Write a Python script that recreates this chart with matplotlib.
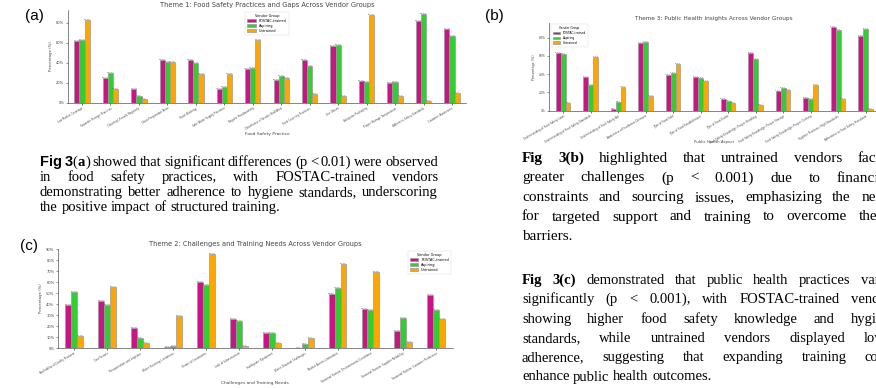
import matplotlib
matplotlib.use("Agg")
import matplotlib.pyplot as plt
from matplotlib.font_manager import FontProperties
from matplotlib.ticker import MultipleLocator, FuncFormatter
import numpy as np

# ---------------- data ----------------
vendor_groups = ["FOSTAC-trained", "Aspiring", "Untrained"]
group_colors = ["#C71585", "#32CD32", "#FFA500"]

theme1_categories = [
    "Low Market Coverage", "Separate Storage Practices", "Cleaning Utensils Regularly",
    "Clean Preparation Area", "Hand Washing", "Safe Water Supply Practices",
    "Regular Handwashing", "Cleanliness of Vendor Stall/Area",
    "Food Covering Practices", "Use Gloves", "Adequate Packaging",
    "Proper Storage Temperature", "Adhere to Safety Standards", "Customer Awareness",
]
theme1_fostac = [62.3, 25.0, 14.0, 43.3, 43.3, 14.0, 34.0, 23.3, 43.3, 57.3, 22.3, 20.0, 81.7, 73.7]
theme1_aspiring = [62.7, 30.0, 7.3, 40.7, 40.0, 16.0, 35.3, 26.7, 36.7, 58.3, 21.0, 21.0, 88.3, 67.0]
theme1_untrained = [82.3, 14.0, 4.3, 40.7, 29.0, 29.0, 63.3, 25.0, 9.3, 6.7, 87.3, 6.7, 2.3, 9.7]

theme3_categories = [
    "Understanding of Food Safety Laws", "Understanding of Food Safety Standards",
    "Understanding of Food Safety Act", "Awareness of Foodborne Diseases",
    "Type of Food Sold", "Type of Food Establishment", "Type of Food Outlet",
    "Food Safety Knowledge: Proper Handling", "Food Safety Knowledge: Proper Storage",
    "Food Safety Knowledge: Proper Cooking", "Hygiene Practices: High Standards",
    "Adherence to Food Safety Standards",
]
theme3_fostac = [63.3, 36.4, 1.8, 74.2, 39.3, 37.1, 12.7, 63.3, 21.5, 13.8, 91.6, 81.8]
theme3_aspiring = [62.5, 28.0, 9.8, 75.6, 41.5, 35.3, 10.5, 56.7, 24.4, 12.7, 88.0, 89.0]
theme3_untrained = [8.0, 58.2, 26.2, 16.0, 50.5, 32.4, 8.0, 6.2, 22.2, 28.0, 12.4, 2.2]

theme2_categories = [
    "Availability of Quality Products", "Cost Factors", "Transportation and Logistics",
    "Water Sourcing Limitations", "Financial Constraints", "Lack of Infrastructure",
    "Inadequate Equipment", "Waste Disposal Challenges", "Market Access Limitations",
    "Seasonal Factors: Environmental Conditions", "Seasonal Factors: Supplier Reliability",
    "Seasonal Factors: Customer Preference",
]
theme2_fostac = [39.5, 42.5, 18.0, 1.2, 60.0, 26.6, 13.8, 0.3, 48.8, 35.9, 15.6, 47.9]
theme2_aspiring = [50.9, 39.5, 9.0, 1.5, 57.8, 24.6, 13.8, 3.6, 54.8, 35.0, 27.2, 35.0]
theme2_untrained = [11.1, 56.0, 4.5, 29.0, 85.9, 2.1, 4.2, 8.7, 76.3, 68.9, 5.4, 26.3]

para_a = [
    "Fig 3(a) showed that significant differences (p < 0.01) were observed",
    "in food safety practices, with FOSTAC-trained vendors",
    "demonstrating better adherence to hygiene standards, underscoring",
    "the positive impact of structured training.",
]
para_b = [
    "Fig 3(b) highlighted that untrained vendors faced",
    "greater challenges (p < 0.001) due to financial",
    "constraints and sourcing issues, emphasizing the need",
    "for targeted support and training to overcome these",
    "barriers.",
]
para_c = [
    "Fig 3(c) demonstrated that public health practices varied",
    "significantly (p < 0.001), with FOSTAC-trained vendors",
    "showing higher food safety knowledge and hygiene",
    "standards, while untrained vendors displayed lower",
    "adherence, suggesting that expanding training could",
    "enhance public health outcomes.",
]

# ---------------- figure ----------------
W, H = 876, 388
fig = plt.figure(figsize=(W / 100, H / 100), dpi=100)
fig.patch.set_facecolor("white")


def rect(l, t, r, b):
    return [l / W, 1 - b / H, (r - l) / W, (b - t) / H]


def draw_panel(pos, cats, series, title, xlabel, ystep, legend_loc, xlabel_top, scale=1.0):
    l, t, r, b = pos
    ax = fig.add_axes(rect(*pos))
    x = np.arange(len(cats))
    w = 0.18
    for i, (vals, col, name) in enumerate(zip(series, group_colors, vendor_groups)):
        bars = ax.bar(x + (i - 1) * w, vals, width=w, color=col, edgecolor="#999999",
                      linewidth=0.5, label=name)
        for bb, v in zip(bars, vals):
            ax.text(bb.get_x() + bb.get_width() / 2, bb.get_height(), f"{v:.1f}%",
                    ha="center", va="bottom", fontsize=1.6 * scale, color="#555555")
    ax.set_xlim(-0.5, len(cats) - 0.5)
    ax.margins(y=0.05)
    ax.yaxis.set_major_locator(MultipleLocator(ystep))
    ax.yaxis.set_major_formatter(FuncFormatter(lambda v, p: f"{v:.0f}%"))
    ax.set_xticks(x)
    ax.set_xticklabels(cats, rotation=30, ha="right", rotation_mode="anchor",
                       fontsize=1.9, color="#444444")
    ax.tick_params(axis="y", labelsize=2.6 * scale, length=1.5, width=0.4, pad=1,
                   colors="#444444")
    ax.tick_params(axis="x", length=1.5, width=0.4, pad=1)
    for s in ["top", "right"]:
        ax.spines[s].set_visible(False)
    for s in ["left", "bottom"]:
        ax.spines[s].set_linewidth(0.5)
        ax.spines[s].set_color("#555555")
    ax.set_title(title, fontsize=4.8 * scale, color="#444444", pad=2)
    ax.set_xlabel(xlabel, fontsize=3.2 * scale, color="#444444", va="top")
    ax.xaxis.set_label_coords(0.5, -(xlabel_top - b) / (b - t))
    ax.set_ylabel("Percentage (%)", fontsize=2.8 * scale, color="#444444", labelpad=2)
    leg = ax.legend(title="Vendor Group", loc=legend_loc, fontsize=2.5 * scale,
                    title_fontsize=2.5 * scale, frameon=True, borderpad=0.6,
                    handlelength=2.5, handleheight=0.9, labelspacing=0.3)
    leg.get_frame().set_linewidth(0.3)
    leg.get_frame().set_edgecolor("#cccccc")
    return ax


draw_panel((67.8, 10, 466.2, 103), theme1_categories,
           [theme1_fostac, theme1_aspiring, theme1_untrained],
           "Theme 1: Food Safety Practices and Gaps Across Vendor Groups",
           "Food Safety Practice", 20, "upper center", 131.5)
draw_panel((549.3, 22.7, 879.3, 110.7), theme3_categories,
           [theme3_fostac, theme3_aspiring, theme3_untrained],
           "Theme 3: Public Health Insights Across Vendor Groups",
           "Public Health Aspect", 20, "upper left", 140.5, scale=0.87)
draw_panel((57.9, 249, 452.7, 348), theme2_categories,
           [theme2_fostac, theme2_aspiring, theme2_untrained],
           "Theme 2: Challenges and Training Needs Across Vendor Groups",
           "Challenges and Training Needs", 10, "upper right", 381)

# panel letters
for lab, px, py in [("(a)", 25, 16), ("(b)", 485, 16), ("(c)", 20, 246)]:
    fig.text(px / W, 1 - py / H, lab, fontsize=11, family="Liberation Sans",
             va="center", ha="left")

# ---------------- justified text ----------------
renderer = fig.canvas.get_renderer()
serif = "Liberation Serif"


def fp(size, weight="normal", family=serif):
    return FontProperties(family=family, size=size, weight=weight)


def seg_w(s, prop):
    t = fig.text(0, 0, s, fontproperties=prop)
    w = t.get_window_extent(renderer=renderer).width
    t.remove()
    return w


def paragraph(lines, x0, x1, y0, dy, size, head_segments):
    reg = fp(size)
    for li, line in enumerate(lines):
        words = line.split(" ")
        tokens = []
        for wi, wd in enumerate(words):
            if li == 0 and wi < len(head_segments):
                tokens.append(head_segments[wi])
            else:
                tokens.append([(wd, reg)])
        widths = [sum(seg_w(s, p) for s, p in tok) for tok in tokens]
        last = li == len(lines) - 1
        if last or len(tokens) == 1:
            gap = seg_w("a a", reg) - 2 * seg_w("a", reg)
        else:
            gap = (x1 - x0 - sum(widths)) / (len(tokens) - 1)
        x = x0
        y = y0 + li * dy
        for tok, tw in zip(tokens, widths):
            xx = x
            for s, p in tok:
                fig.text(xx / W, 1 - y / H, s, fontproperties=p, va="baseline",
                         ha="left", color="black")
                xx += seg_w(s, p)
            x += tw + gap


sa = 10.5
paragraph(para_a, 40, 438, 166, 15.0, sa,
          [[("Fig", fp(sa, "bold", "Liberation Sans"))],
           [("3", fp(sa, "bold", "Liberation Sans")), ("(", fp(sa)), ("a", fp(sa, "bold")),
            (")", fp(sa))]])
sb = 11
paragraph(para_b, 522, 890, 162, 19.5, sb,
          [[("Fig", fp(sb, "bold"))], [("3(b)", fp(sb, "bold"))]])
sc = 10.5
paragraph(para_c, 522, 897, 284, 19.3, sc,
          [[("Fig", fp(sc, "bold"))], [("3(c)", fp(sc, "bold"))]])

fig.savefig("out.png", dpi=100, facecolor="white")
